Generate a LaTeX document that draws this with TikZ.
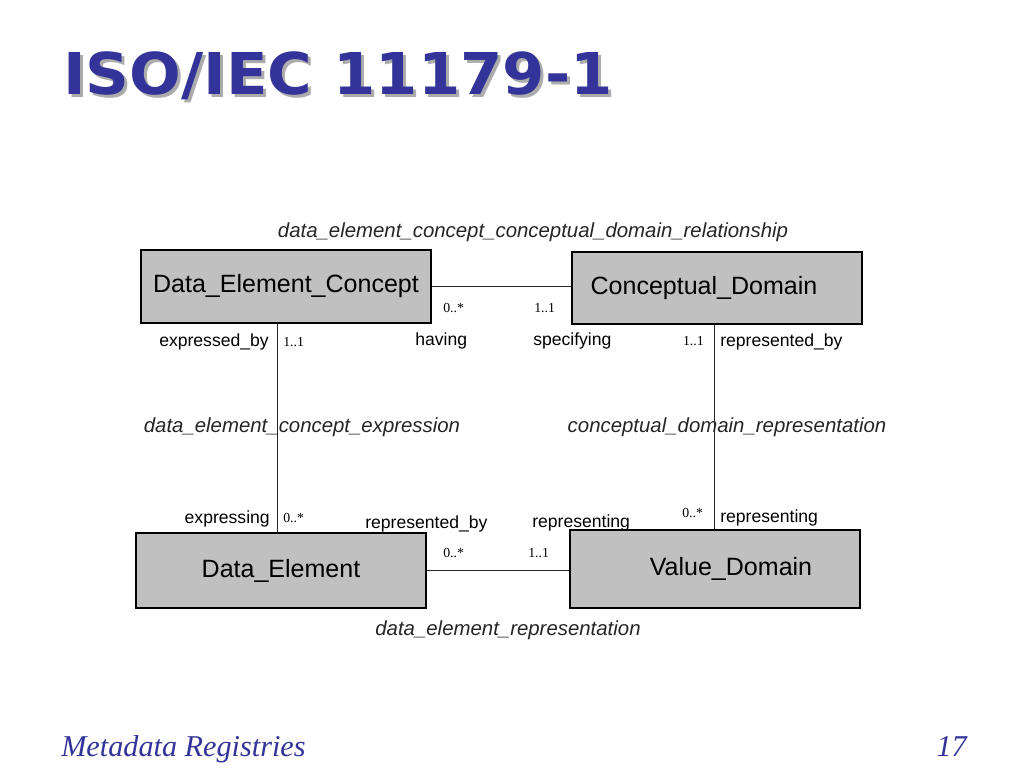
\documentclass[tikz,border=0pt]{standalone}
\usepackage{fontspec}
\setmainfont{Liberation Sans}
\newfontfamily\multfont{Liberation Serif}
\newfontfamily\titlefont{DejaVu Sans}
\newfontfamily\footfont{Liberation Serif}
\usepackage{xcolor}
\definecolor{slideblue}{RGB}{51,51,153}
\definecolor{shadowgray}{RGB}{172,172,172}
\definecolor{boxgray}{RGB}{192,192,192}

\begin{document}
\begin{tikzpicture}[x=0.025cm, y=-0.025cm,
	entity/.style={draw=black, line width=0.8pt, fill=boxgray, minimum width=7.25cm, minimum height=1.85cm, inner sep=0pt, font=\fontsize{17.8}{20}\selectfont},
	link/.style={line width=0.7pt, black!85},
	role/.style={inner sep=0pt, font=\fontsize{12.5}{14}\selectfont},
	mult/.style={inner sep=0pt, font=\multfont\fontsize{9.8}{11}\selectfont},
	assoc/.style={inner sep=0pt, font=\fontsize{14.5}{16}\itshape\selectfont, black!85},
	heading/.style={anchor=base west, inner sep=0pt, xscale=1.055, transform shape, font=\titlefont\fontsize{41}{48}\bfseries\selectfont}]
	\useasboundingbox[fill=white] (0,0) rectangle (1024,768);
	
	% title with its shadow
	\node[heading, text=shadowgray] (titleshadow) at (66,98) {ISO/IEC 11179-1};
	\node[heading, text=slideblue] (title) at (63,95) {ISO/IEC 11179-1};
	
	% hidden under the value domain box
	\node[role, anchor=base west] (vdrole) at (532,527) {representing};
	
	% classes
	\node[entity, minimum height=1.825cm] (dec) at (286,286.5) {Data\_Element\_Concept};
	\node[entity, minimum height=1.8cm] (cd) at (717,288) {Conceptual\_Domain\hspace*{0.65cm}};
	\node[entity, minimum height=1.875cm] (de) at (281,570.5) {Data\_Element};
	\node[entity, minimum height=1.95cm] (vd) at (715,569) {\hspace*{0.8cm}Value\_Domain};
	
	\coordinate (lft) at (277,0);
	\coordinate (rgt) at (714,0);
	\draw[link] (dec.east) -- (cd.west |- dec.east);
	\draw[link] (dec.south -| lft) -- (de.north -| lft);
	\draw[link] (cd.south -| rgt) -- (vd.north -| rgt);
	\draw[link] (de.east) -- (vd.west |- de.east);
	
	% associations
	\node[assoc, anchor=base] (rel) at (533,237) {data\_element\_concept\_conceptual\_domain\_relationship};
	\node[assoc, anchor=base] (expr) at (302,432) {data\_element\_concept\_expression};
	\node[assoc, anchor=base] (cdrep) at (727,432) {conceptual\_domain\_representation};
	\node[assoc, anchor=base] (derep) at (508,635) {data\_element\_representation};
	
	% roles
	\node[role, anchor=base west] (having) at (415,345) {having};
	\node[role, anchor=base west] (specifying) at (533,345) {specifying};
	\node[role, anchor=base east] (expressedby) at (269,346) {expressed\_by};
	\node[role, anchor=base west] (cdrepby) at (720,346) {represented\_by};
	\node[role, anchor=base east] (expressing) at (270,523) {expressing};
	\node[role, anchor=base west] (derepby) at (365,528) {represented\_by};
	\node[role, anchor=base west] (cdrole) at (720,522) {representing};
	
	% multiplicities
	\node[mult, anchor=base west] (m1) at (443,312) {0..*};
	\node[mult, anchor=base west] (m2) at (534,312) {1..1};
	\node[mult, anchor=base west] (m3) at (283,346) {1..1};
	\node[mult, anchor=base east] (m4) at (704,345) {1..1};
	\node[mult, anchor=base west] (m5) at (283,522) {0..*};
	\node[mult, anchor=base west] (m6) at (682,517) {0..*};
	\node[mult, anchor=base west] (m7) at (443,557) {0..*};
	\node[mult, anchor=base west] (m8) at (528,557) {1..1};
	
	% footer
	\node[anchor=base west, inner sep=0pt, text=slideblue, font=\footfont\fontsize{21.5}{24}\itshape\selectfont] (foot) at (61,756) {Metadata Registries};
	\node[anchor=base east, inner sep=0pt, text=slideblue, font=\footfont\fontsize{21.5}{24}\itshape\selectfont] (page) at (967,756) {17};
\end{tikzpicture}
\end{document}
